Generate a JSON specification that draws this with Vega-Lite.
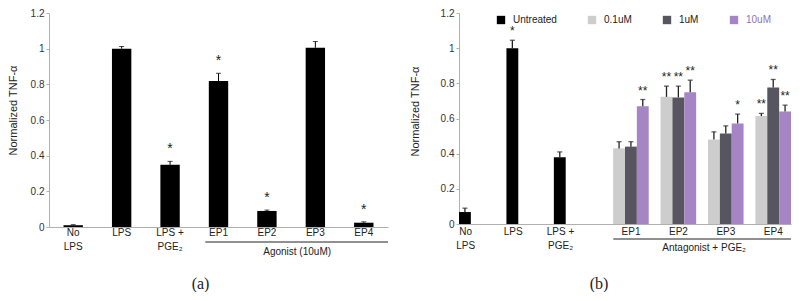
{
  "$schema": "https://vega.github.io/schema/vega-lite/v6.json",
  "background": "white",
  "padding": {"left": 7, "top": 8, "right": 6, "bottom": 0},
  "spacing": 71,
  "bounds": "flush",
  "config": {
    "view": {"stroke": null},
    "font": "Liberation Sans",
    "axis": {"grid": false, "labelFont": "Liberation Sans", "titleFont": "Liberation Sans", "labelFontSize": 10, "labelColor": "#333", "titleColor": "#222", "titleFontWeight": "normal", "titleFontSize": 11, "domainColor": "#b0b0b0", "tickColor": "#b0b0b0", "labelOverlap": false}
  },
  "resolve": {"scale": {"color": "independent", "x": "independent", "y": "independent", "xOffset": "independent"}, "legend": {"color": "independent"}},
  "datasets": {
    "agonist": [
      {"condition": "No LPS", "value": 0.01, "upper": 0.013, "sig": ""},
      {"condition": "LPS", "value": 1.0, "upper": 1.012, "sig": ""},
      {"condition": "LPS + PGE₂", "value": 0.349, "upper": 0.368, "sig": "*"},
      {"condition": "EP1", "value": 0.818, "upper": 0.862, "sig": "*"},
      {"condition": "EP2", "value": 0.09, "upper": 0.095, "sig": "*"},
      {"condition": "EP3", "value": 1.005, "upper": 1.04, "sig": ""},
      {"condition": "EP4", "value": 0.024, "upper": 0.029, "sig": "*"}
    ],
    "antagonist": [
      {"condition": "No LPS", "series": "Untreated", "value": 0.068, "upper": 0.09, "sig": ""},
      {"condition": "LPS", "series": "Untreated", "value": 1.0, "upper": 1.045, "sig": "*"},
      {"condition": "LPS + PGE₂", "series": "Untreated", "value": 0.38, "upper": 0.41, "sig": ""},
      {"condition": "EP1", "series": "0.1uM", "value": 0.43, "upper": 0.468, "sig": ""},
      {"condition": "EP1", "series": "1uM", "value": 0.44, "upper": 0.468, "sig": ""},
      {"condition": "EP1", "series": "10uM", "value": 0.67, "upper": 0.708, "sig": "**"},
      {"condition": "EP2", "series": "0.1uM", "value": 0.723, "upper": 0.784, "sig": "**"},
      {"condition": "EP2", "series": "1uM", "value": 0.72, "upper": 0.784, "sig": "**"},
      {"condition": "EP2", "series": "10uM", "value": 0.75, "upper": 0.818, "sig": "**"},
      {"condition": "EP3", "series": "0.1uM", "value": 0.48, "upper": 0.524, "sig": ""},
      {"condition": "EP3", "series": "1uM", "value": 0.515, "upper": 0.558, "sig": ""},
      {"condition": "EP3", "series": "10uM", "value": 0.572, "upper": 0.625, "sig": "*"},
      {"condition": "EP4", "series": "0.1uM", "value": 0.614, "upper": 0.629, "sig": "**"},
      {"condition": "EP4", "series": "1uM", "value": 0.777, "upper": 0.822, "sig": "**"},
      {"condition": "EP4", "series": "10uM", "value": 0.64, "upper": 0.676, "sig": "**"}
    ]
  },
  "hconcat": [
    {
      "width": 339,
      "height": 214,
      "title": {"text": "(a)", "orient": "bottom", "anchor": "middle", "frame": "group", "font": "Liberation Serif", "fontSize": 16, "fontWeight": "normal", "offset": 19, "dx": -18, "color": "#222"},
      "data": {"name": "agonist"},
      "encoding": {
        "x": {"field": "condition", "type": "nominal", "sort": null,
              "scale": {"domain": ["No LPS", "LPS", "LPS + PGE₂", "EP1", "EP2", "EP3", "EP4"], "paddingInner": 0, "paddingOuter": 0},
              "axis": {"title": null, "ticks": false, "labelAngle": 0, "labelPadding": 0, "labelLineHeight": 14, "labelColor": "#222",
                       "labelExpr": "datum.value == 'No LPS' ? ['No', 'LPS'] : datum.value == 'LPS + PGE₂' ? ['LPS +', 'PGE₂'] : datum.value"}}
      },
      "layer": [
        {"mark": {"type": "bar", "color": "black", "width": {"band": 0.4}},
         "encoding": {"y": {"field": "value", "type": "quantitative", "scale": {"domain": [0, 1.2]},
                            "axis": {"title": "Normalized TNF-α", "values": [0, 0.2, 0.4, 0.6, 0.8, 1, 1.2], "format": "~g", "labelOverlap": false, "tickSize": 3, "labelPadding": 2, "titlePadding": 12, "titleY": 97}}}},
        {"mark": {"type": "rule", "color": "black", "strokeWidth": 1},
         "encoding": {"y": {"field": "value", "type": "quantitative", "axis": {"title": "Normalized TNF-α", "values": [0, 0.2, 0.4, 0.6, 0.8, 1, 1.2], "format": "~g", "labelOverlap": false, "tickSize": 3, "labelPadding": 2, "titlePadding": 12, "titleY": 97}}, "y2": {"field": "upper"}}},
        {"mark": {"type": "tick", "color": "black", "size": 5, "thickness": 1, "orient": "horizontal"},
         "encoding": {"y": {"field": "upper", "type": "quantitative", "axis": {"title": "Normalized TNF-α", "values": [0, 0.2, 0.4, 0.6, 0.8, 1, 1.2], "format": "~g", "labelOverlap": false, "tickSize": 3, "labelPadding": 2, "titlePadding": 12, "titleY": 97}}}},
        {"mark": {"type": "text", "fontSize": 14, "dy": -8, "baseline": "alphabetic", "color": "#222"},
         "encoding": {"y": {"field": "upper", "type": "quantitative", "axis": {"title": "Normalized TNF-α", "values": [0, 0.2, 0.4, 0.6, 0.8, 1, 1.2], "format": "~g", "labelOverlap": false, "tickSize": 3, "labelPadding": 2, "titlePadding": 12, "titleY": 97}}, "text": {"field": "sig"}}},
        {"data": {"values": [{"label": "Agonist (10uM)"}]},
         "mark": {"type": "rule", "color": "#222", "strokeWidth": 1, "yOffset": 15, "xOffset": 11},
         "encoding": {"x": {"datum": "EP1", "type": "nominal", "bandPosition": 0}, "x2": {"datum": "EP4", "bandPosition": 1}, "y": {"datum": 0, "type": "quantitative", "axis": {"title": "Normalized TNF-α", "values": [0, 0.2, 0.4, 0.6, 0.8, 1, 1.2], "format": "~g", "labelOverlap": false, "tickSize": 3, "labelPadding": 2, "titlePadding": 12, "titleY": 97}}}},
        {"data": {"values": [{"label": "Agonist (10uM)"}]},
         "mark": {"type": "text", "fontSize": 10, "color": "#222", "baseline": "middle", "dy": 25, "dx": 6},
         "encoding": {"x": {"datum": "EP3", "type": "nominal", "bandPosition": 0}, "y": {"datum": 0, "type": "quantitative", "axis": {"title": "Normalized TNF-α", "values": [0, 0.2, 0.4, 0.6, 0.8, 1, 1.2], "format": "~g", "labelOverlap": false, "tickSize": 3, "labelPadding": 2, "titlePadding": 12, "titleY": 97}}, "text": {"field": "label"}}}
      ]
    },
    {
      "width": 332,
      "height": 211,
      "title": {"text": "(b)", "orient": "bottom", "anchor": "middle", "frame": "group", "font": "Liberation Serif", "fontSize": 16, "fontWeight": "normal", "offset": 23, "dx": -26, "color": "#222"},
      "data": {"name": "antagonist"},
      "encoding": {
        "x": {"field": "condition", "type": "nominal", "sort": null,
              "scale": {"domain": ["No LPS", "LPS", "LPS + PGE₂", "EP1", "EP2", "EP3", "EP4"], "paddingInner": 0, "paddingOuter": 0},
              "axis": {"title": null, "ticks": false, "labelAngle": 0, "labelPadding": 2, "labelLineHeight": 14, "labelColor": "#222",
                       "labelExpr": "datum.value == 'No LPS' ? ['No', 'LPS'] : datum.value == 'LPS + PGE₂' ? ['LPS +', 'PGE₂'] : datum.value",
                       "labelOffset": {"condition": {"test": "indexof(['EP1','EP2','EP3','EP4'], datum.value) >= 0", "value": 6}, "value": -17}}}
      },
      "layer": [
        {"mark": {"type": "bar"},
         "encoding": {
           "xOffset": {"field": "series", "type": "nominal", "scale": {"domain": ["Untreated", "0.1uM", "1uM", "10uM"], "paddingInner": 0, "paddingOuter": 0}},
           "y": {"field": "value", "type": "quantitative", "scale": {"domain": [0, 1.2]},
                 "axis": {"title": "Normalized TNF-α", "values": [0, 0.2, 0.4, 0.6, 0.8, 1, 1.2], "format": "~g", "labelOverlap": false, "tickSize": 3, "labelPadding": 2, "titlePadding": 20, "titleY": 98}},
           "color": {"field": "series", "type": "nominal",
                     "scale": {"domain": ["Untreated", "0.1uM", "1uM", "10uM"], "range": ["#000000", "#cdcdcd", "#57555f", "#a585c3"]},
                     "legend": {"orient": "none", "legendX": 37, "legendY": 2, "direction": "horizontal", "title": null,
                                "symbolType": "square", "symbolSize": 70, "symbolStrokeWidth": 0, "symbolOpacity": 1,
                                "labelFontSize": 10, "labelFont": "Liberation Sans", "labelOffset": 7, "columnPadding": 30, "padding": 0,
                                "encode": {"labels": {"update": {"fill": {"signal": "datum.label === '10uM' ? '#9272b8' : '#222'"}}}}}}
         }},
        {"mark": {"type": "rule", "color": "#222", "strokeWidth": 1.3},
         "encoding": {"xOffset": {"field": "series", "type": "nominal"}, "y": {"field": "value", "type": "quantitative", "axis": {"title": "Normalized TNF-α", "values": [0, 0.2, 0.4, 0.6, 0.8, 1, 1.2], "format": "~g", "labelOverlap": false, "tickSize": 3, "labelPadding": 2, "titlePadding": 20, "titleY": 98}}, "y2": {"field": "upper"}}},
        {"mark": {"type": "tick", "color": "#222", "size": 5, "thickness": 1.3, "orient": "horizontal"},
         "encoding": {"xOffset": {"field": "series", "type": "nominal"}, "y": {"field": "upper", "type": "quantitative", "axis": {"title": "Normalized TNF-α", "values": [0, 0.2, 0.4, 0.6, 0.8, 1, 1.2], "format": "~g", "labelOverlap": false, "tickSize": 3, "labelPadding": 2, "titlePadding": 20, "titleY": 98}}}},
        {"mark": {"type": "text", "fontSize": 12, "dy": -5, "baseline": "alphabetic", "color": "#222"},
         "encoding": {"xOffset": {"field": "series", "type": "nominal"}, "y": {"field": "upper", "type": "quantitative", "axis": {"title": "Normalized TNF-α", "values": [0, 0.2, 0.4, 0.6, 0.8, 1, 1.2], "format": "~g", "labelOverlap": false, "tickSize": 3, "labelPadding": 2, "titlePadding": 20, "titleY": 98}}, "text": {"field": "sig"}}},
        {"data": {"values": [{"label": "Antagonist + PGE₂"}]},
         "mark": {"type": "rule", "color": "#222", "strokeWidth": 1, "yOffset": 15, "xOffset": 12},
         "encoding": {"x": {"datum": "EP1", "type": "nominal", "bandPosition": 0}, "x2": {"datum": "EP4", "bandPosition": 1}, "y": {"datum": 0, "type": "quantitative", "axis": {"title": "Normalized TNF-α", "values": [0, 0.2, 0.4, 0.6, 0.8, 1, 1.2], "format": "~g", "labelOverlap": false, "tickSize": 3, "labelPadding": 2, "titlePadding": 20, "titleY": 98}}}},
        {"data": {"values": [{"label": "Antagonist + PGE₂"}]},
         "mark": {"type": "text", "fontSize": 10, "color": "#222", "baseline": "middle", "dy": 24, "dx": 8},
         "encoding": {"x": {"datum": "EP3", "type": "nominal", "bandPosition": 0}, "y": {"datum": 0, "type": "quantitative", "axis": {"title": "Normalized TNF-α", "values": [0, 0.2, 0.4, 0.6, 0.8, 1, 1.2], "format": "~g", "labelOverlap": false, "tickSize": 3, "labelPadding": 2, "titlePadding": 20, "titleY": 98}}, "text": {"field": "label"}}}
      ]
    }
  ]
}
